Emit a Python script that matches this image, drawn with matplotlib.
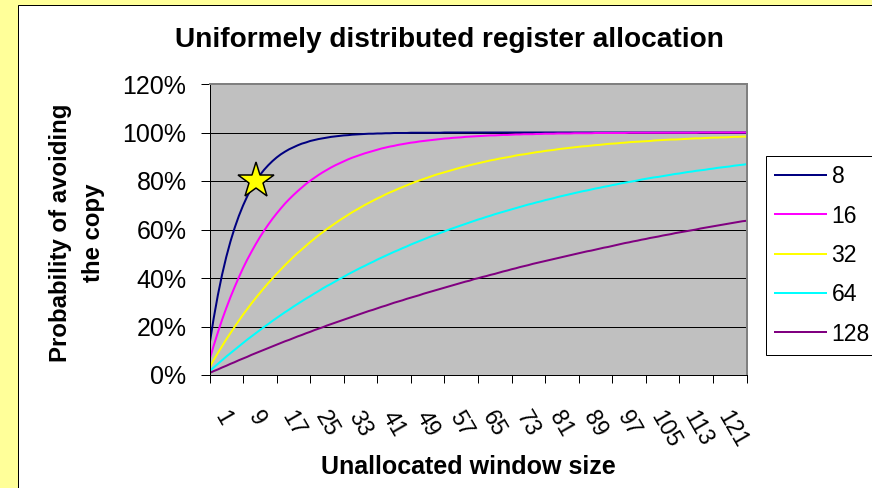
import matplotlib
matplotlib.use("Agg")
from matplotlib import pyplot as plt
from matplotlib.patches import Rectangle

plt.rcParams['font.family'] = ['Liberation Sans', 'DejaVu Sans']

# Window sizes (x categories) and probability (%) for each register file size
window = list(range(1, 130))

regs_8 = [
    12.5, 23.4, 33.0, 41.4, 48.7, 55.1, 60.7, 65.6, 69.9, 73.7,
    77.0, 79.9, 82.4, 84.6, 86.5, 88.2, 89.7, 91.0, 92.1, 93.1,
    93.9, 94.7, 95.4, 95.9, 96.5, 96.9, 97.3, 97.6, 97.9, 98.2,
    98.4, 98.6, 98.8, 98.9, 99.1, 99.2, 99.3, 99.4, 99.5, 99.5,
    99.6, 99.6, 99.7, 99.7, 99.8, 99.8, 99.8, 99.8, 99.9, 99.9,
    99.9, 99.9, 99.9, 99.9, 99.9, 99.9,
] + [100.0] * 73

regs_16 = [
    6.3, 12.1, 17.6, 22.8, 27.6, 32.1, 36.3, 40.3, 44.1, 47.6,
    50.8, 53.9, 56.8, 59.5, 62.0, 64.4, 66.6, 68.7, 70.7, 72.5,
    74.2, 75.8, 77.3, 78.8, 80.1, 81.3, 82.5, 83.6, 84.6, 85.6,
    86.5, 87.3, 88.1, 88.9, 89.6, 90.2, 90.8, 91.4, 91.9, 92.4,
    92.9, 93.4, 93.8, 94.2, 94.5, 94.9, 95.2, 95.5, 95.8, 96.0,
    96.3, 96.5, 96.7, 96.9, 97.1, 97.3, 97.5, 97.6, 97.8, 97.9,
    98.0, 98.2, 98.3, 98.4, 98.5, 98.6, 98.7, 98.8, 98.8, 98.9,
    99.0, 99.0, 99.1, 99.2, 99.2, 99.3, 99.3, 99.3, 99.4, 99.4,
    99.5, 99.5, 99.5, 99.6, 99.6, 99.6, 99.6, 99.7, 99.7, 99.7,
    99.7, 99.7, 99.8, 99.8, 99.8, 99.8, 99.8, 99.8, 99.8, 99.8,
] + [99.9] * 17 + [100.0] * 12

regs_32 = [
    3.1, 6.2, 9.1, 11.9, 14.7, 17.3, 19.9, 22.4, 24.9, 27.2,
    29.5, 31.7, 33.8, 35.9, 37.9, 39.8, 41.7, 43.5, 45.3, 47.0,
    48.7, 50.3, 51.8, 53.3, 54.8, 56.2, 57.6, 58.9, 60.2, 61.4,
    62.6, 63.8, 64.9, 66.0, 67.1, 68.1, 69.1, 70.1, 71.0, 71.9,
    72.8, 73.6, 74.5, 75.3, 76.0, 76.8, 77.5, 78.2, 78.9, 79.6,
    80.2, 80.8, 81.4, 82.0, 82.6, 83.1, 83.6, 84.1, 84.6, 85.1,
    85.6, 86.0, 86.5, 86.9, 87.3, 87.7, 88.1, 88.5, 88.8, 89.2,
    89.5, 89.8, 90.1, 90.5, 90.8, 91.0, 91.3, 91.6, 91.9, 92.1,
    92.4, 92.6, 92.8, 93.1, 93.3, 93.5, 93.7, 93.9, 94.1, 94.3,
    94.4, 94.6, 94.8, 94.9, 95.1, 95.3, 95.4, 95.5, 95.7, 95.8,
    96.0, 96.1, 96.2, 96.3, 96.4, 96.5, 96.7, 96.8, 96.9, 97.0,
    97.1, 97.1, 97.2, 97.3, 97.4, 97.5, 97.6, 97.6, 97.7, 97.8,
    97.9, 97.9, 98.0, 98.0, 98.1, 98.2, 98.2, 98.3, 98.3,
]

regs_64 = [
    1.6, 3.1, 4.6, 6.1, 7.6, 9.0, 10.4, 11.8, 13.2, 14.6,
    15.9, 17.2, 18.5, 19.8, 21.0, 22.3, 23.5, 24.7, 25.9, 27.0,
    28.2, 29.3, 30.4, 31.5, 32.5, 33.6, 34.6, 35.7, 36.7, 37.6,
    38.6, 39.6, 40.5, 41.5, 42.4, 43.3, 44.2, 45.0, 45.9, 46.7,
    47.6, 48.4, 49.2, 50.0, 50.8, 51.5, 52.3, 53.0, 53.8, 54.5,
    55.2, 55.9, 56.6, 57.3, 57.9, 58.6, 59.2, 59.9, 60.5, 61.1,
    61.7, 62.3, 62.9, 63.5, 64.1, 64.6, 65.2, 65.7, 66.3, 66.8,
    67.3, 67.8, 68.3, 68.8, 69.3, 69.8, 70.3, 70.7, 71.2, 71.6,
    72.1, 72.5, 72.9, 73.4, 73.8, 74.2, 74.6, 75.0, 75.4, 75.8,
    76.1, 76.5, 76.9, 77.2, 77.6, 77.9, 78.3, 78.6, 79.0, 79.3,
    79.6, 79.9, 80.2, 80.6, 80.9, 81.2, 81.5, 81.7, 82.0, 82.3,
    82.6, 82.9, 83.1, 83.4, 83.7, 83.9, 84.2, 84.4, 84.6, 84.9,
    85.1, 85.4, 85.6, 85.8, 86.0, 86.3, 86.5, 86.7, 86.9,
]

regs_128 = [
    0.8, 1.6, 2.3, 3.1, 3.8, 4.6, 5.3, 6.1, 6.8, 7.5,
    8.3, 9.0, 9.7, 10.4, 11.1, 11.8, 12.5, 13.2, 13.9, 14.5,
    15.2, 15.9, 16.5, 17.2, 17.8, 18.5, 19.1, 19.7, 20.4, 21.0,
    21.6, 22.2, 22.8, 23.4, 24.0, 24.6, 25.2, 25.8, 26.4, 26.9,
    27.5, 28.1, 28.6, 29.2, 29.8, 30.3, 30.8, 31.4, 31.9, 32.4,
    32.9, 33.5, 34.0, 34.5, 35.0, 35.5, 36.0, 36.5, 37.0, 37.5,
    38.0, 38.5, 38.9, 39.5, 39.9, 40.4, 40.8, 41.3, 41.7, 42.2,
    42.7, 43.1, 43.6, 44.0, 44.5, 44.9, 45.3, 45.8, 46.2, 46.6,
    47.0, 47.4, 47.8, 48.2, 48.6, 49.0, 49.4, 49.8, 50.2, 50.6,
    51.0, 51.3, 51.7, 52.1, 52.5, 52.8, 53.2, 53.6, 54.0, 54.4,
    54.7, 55.1, 55.4, 55.8, 56.1, 56.5, 56.8, 57.1, 57.5, 57.8,
    58.1, 58.5, 58.8, 59.1, 59.4, 59.7, 60.0, 60.4, 60.7, 61.0,
    61.3, 61.6, 61.9, 62.2, 62.5, 62.8, 63.1, 63.4, 63.6,
]

series_names = ['8', '16', '32', '64', '128']
series_values = [regs_8, regs_16, regs_32, regs_64, regs_128]
series_colors = ['#000080', '#FF00FF', '#FFFF00', '#00FFFF', '#800080']

# highlighted point on the 8-register curve
star_window = 12
star_prob = 80

W, H = 872, 488


def fx(px):
    return px / W


def fy(py):
    return 1 - py / H


fig = plt.figure(figsize=(W / 72, H / 72), dpi=72, facecolor='#FFFF99')

# white chart area with a thin black border
fig.patches.append(Rectangle((fx(17.5), fy(500)), fx(900), fy(5.5) - fy(500),
                             transform=fig.transFigure, facecolor='white',
                             edgecolor='black', linewidth=1, zorder=-1))

ax = fig.add_axes([fx(209.5), fy(375), fx(746.5) - fx(209.5), fy(84) - fy(375)])
ax.set_zorder(1)
ax.set_facecolor('#C0C0C0')

for name, vals, col in zip(series_names, series_values, series_colors):
    ax.plot(window, vals, color=col, lw=2, label=name)

ax.plot([star_window], [star_prob], marker='*', ms=38, mfc='#FFFF00', mec='black',
        mew=1.5, clip_on=False, zorder=5)

ax.set_xlim(1, 129)
ax.set_ylim(0, 120)

yt = list(range(0, 121, 20))
ax.set_yticks(yt)
ax.set_yticklabels([f"{v}%" for v in yt])
xt = list(range(1, 130, 8))
ax.set_xticks(xt)
ax.set_xticklabels([str(v) if v < 129 else '' for v in xt],
                   rotation=-60, ha='left', va='top')

ax.tick_params(axis='y', direction='out', length=9, width=1, pad=14, labelsize=25)
ax.tick_params(axis='x', direction='out', length=8, width=1, pad=24, labelsize=23)

ax.yaxis.grid(True, color='black', lw=1)
ax.set_axisbelow(True)
for s in ['left', 'bottom']:
    ax.spines[s].set_color('black')
    ax.spines[s].set_linewidth(1)
for s in ['top', 'right']:
    ax.spines[s].set_color('#808080')
    ax.spines[s].set_linewidth(2)

fig.text(fx(449.5), fy(40), 'Uniformely distributed register allocation',
         ha='center', va='center', fontsize=28, fontweight='bold')
fig.text(fx(468), fy(467), 'Unallocated window size',
         ha='center', va='center', fontsize=25, fontweight='bold')
fig.text(fx(77), fy(233), 'Probability of avoiding\nthe copy', rotation=90,
         ha='center', va='center', multialignment='center', linespacing=1.6,
         fontsize=24, fontweight='bold')

leg = fig.legend(loc='upper left', bbox_to_anchor=(fx(766), fy(156)),
                 fontsize=23, frameon=True, fancybox=False, framealpha=1,
                 edgecolor='black', handlelength=2.2, handletextpad=0.25,
                 labelspacing=0.71, borderpad=0.4, borderaxespad=0)
leg.get_frame().set_linewidth(1)
leg.set_zorder(2)

fig.savefig('out.png', dpi=72, facecolor=fig.get_facecolor())
